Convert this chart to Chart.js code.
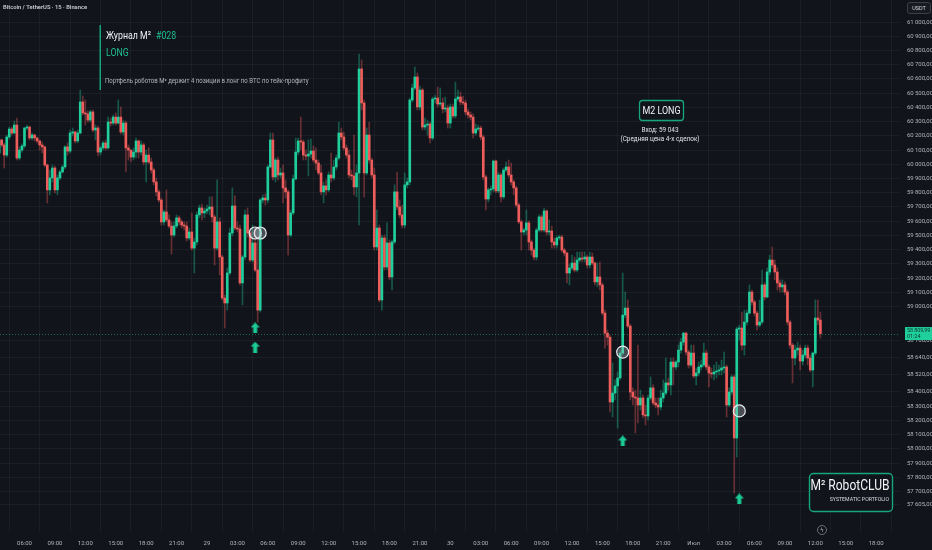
<!DOCTYPE html>
<html>
<head>
<meta charset="utf-8">
<title>BTCUSDT 15m — Журнал M² #028</title>
<script src="https://cdn.jsdelivr.net/npm/chart.js@4.4.1/dist/chart.umd.min.js"></script>
<style>
  html, body { margin: 0; padding: 0; background: #11141b; }
  #wrap { width: 932px; height: 550px; }
</style>
</head>
<body>
<div id="wrap"><canvas id="chart" width="932" height="550"></canvas></div>
<script>
// DATA (15m candles, slot 0 = 28 Jun 06:00, first candle = 03:30)
const firstSlot = -10;

const opens = [
  60079, 60171, 60136, 60065, 60192, 60248, 60220, 60276, 60044, 60100,
  60129, 60255, 60262, 60185, 60206, 60185, 60164, 60136, 60122, 59995,
  59820, 59904, 59974, 59820, 59904, 59946, 59981, 60122, 60093, 60220,
  60227, 60164, 60220, 60438, 60361, 60354, 60311, 60368, 60241, 60255,
  60086, 60115, 60150, 60115, 60297, 60290, 60332, 60290, 60332, 60227,
  60290, 60115, 60100, 60051, 60086, 60164, 60086, 60136, 60016, 60065,
  60016, 59960, 59876, 59806, 59749, 59595, 59665, 59609, 59566, 59503,
  59566, 59623, 59595, 59573, 59566, 59482, 59524, 59411, 59454, 59644,
  59693, 59658, 59672, 59686, 59700, 59630, 59411, 59595, 59348, 59060,
  59025, 59236, 59517, 59707, 59552, 59545, 59166, 59348, 59644, 59517,
  59327, 59447, 59257, 58975, 59749, 59763, 59749, 59981, 60171, 59911,
  60030, 59925, 59939, 59834, 59806, 59503, 59658, 59897, 60086, 60164,
  60157, 60065, 60058, 60072, 60093, 60030, 60009, 59939, 59806, 59848,
  59820, 59925, 59904, 59981, 60044, 60220, 60192, 60115, 60065, 59925,
  59918, 59841, 59939, 60670, 60431, 59939, 60206, 60030, 59925, 59419,
  59552, 59046, 59482, 59278, 59447, 59208, 59454, 59806, 59700, 59644,
  59573, 59855, 59876, 60452, 60536, 60614, 60403, 60522, 60262, 60276,
  60283, 60185, 60459, 60466, 60424, 60431, 60389, 60396, 60290, 60403,
  60340, 60459, 60473, 60438, 60431, 60368, 60347, 60332, 60220, 60248,
  60255, 60192, 59911, 59756, 59820, 59827, 60023, 59813, 59925, 59771,
  59960, 59981, 59925, 59876, 59834, 59714, 59595, 59524, 59538, 59588,
  59454, 59397, 59348, 59538, 59630, 59538, 59672, 59524, 59531, 59454,
  59433, 59482, 59489, 59397, 59376, 59236, 59271, 59306, 59257, 59327,
  59341, 59334, 59348, 59292, 59348, 59306, 59173, 59208, 59152, 58954,
  58813, 58785, 58329, 58392, 58442, 58498, 58673, 58940, 58989, 58863,
  58399, 58364, 58357, 58308, 58357, 58238, 58231, 58357, 58428, 58322,
  58308, 58294, 58357, 58392, 58463, 58449, 58610, 58575, 58610, 58694,
  58750, 58813, 58680, 58589, 58673, 58512, 58533, 58575, 58589, 58673,
  58575, 58533, 58526, 58540, 58547, 58554, 58568, 58575, 58308, 58399,
  58505, 58076, 58842, 58849, 58729, 58891, 58954, 59102, 59032, 58954,
  58870, 58891, 59152, 59067, 59243, 59327, 59292, 59243, 59166, 59138,
  59152, 59102, 58891, 58729, 58638, 58694, 58708, 58617, 58659, 58708,
  58638, 58554, 58673, 58919, 58905
];

const highs = [
  60185, 60178, 60150, 60206, 60262, 60262, 60304, 60325, 60122, 60143,
  60262, 60276, 60269, 60220, 60213, 60192, 60171, 60157, 60129, 60002,
  59960, 59995, 59988, 59925, 59960, 59995, 60129, 60150, 60241, 60255,
  60234, 60241, 60522, 60480, 60452, 60375, 60382, 60382, 60276, 60269,
  60129, 60164, 60171, 60332, 60325, 60347, 60361, 60452, 60403, 60311,
  60304, 60136, 60100, 60115, 60185, 60171, 60164, 60150, 60100, 60115,
  60044, 59974, 59904, 59820, 59763, 59679, 59820, 59644, 59595, 59595,
  59644, 59637, 59609, 59595, 59595, 59552, 59658, 59482, 59665, 59714,
  59721, 59693, 59714, 59771, 59771, 59644, 59890, 59623, 59362, 59081,
  59271, 59552, 59834, 59778, 59595, 59573, 59362, 59679, 59693, 59524,
  59573, 59552, 59468, 59760, 59785, 59792, 59995, 60220, 60220, 60044,
  60051, 59974, 59995, 59890, 59820, 59679, 59925, 60185, 60185, 60332,
  60171, 60100, 60171, 60178, 60129, 60115, 60030, 59995, 59876, 59890,
  59946, 60079, 60030, 60065, 60297, 60255, 60227, 60136, 60100, 59960,
  60206, 59995, 60775, 60733, 60452, 60255, 60297, 60044, 59974, 59679,
  59573, 59503, 59503, 59588, 59468, 59468, 59855, 59946, 59749, 59714,
  59939, 59904, 60466, 60564, 60684, 60642, 60550, 60536, 60325, 60311,
  60297, 60473, 60487, 60543, 60536, 60466, 60473, 60417, 60424, 60424,
  60578, 60522, 60508, 60480, 60452, 60389, 60368, 60354, 60283, 60276,
  60269, 60206, 59925, 59834, 59848, 60030, 60030, 59946, 59939, 59974,
  60016, 60030, 60009, 59890, 59848, 59728, 59609, 59552, 59679, 59602,
  59468, 59411, 59552, 59644, 59644, 59693, 59679, 59609, 59566, 59482,
  59496, 59503, 59503, 59411, 59383, 59299, 59362, 59348, 59383, 59383,
  59383, 59383, 59362, 59383, 59376, 59313, 59306, 59313, 59166, 58975,
  58835, 58799, 58603, 58484, 58540, 58694, 59236, 59102, 59046, 58877,
  58428, 58413, 58729, 58413, 58378, 58308, 58378, 58505, 58449, 58357,
  58357, 58413, 58484, 58638, 58498, 58638, 58638, 58624, 58729, 58778,
  58820, 58820, 58694, 58729, 58729, 58568, 58610, 58624, 58743, 58694,
  58589, 58568, 58589, 58610, 58589, 58624, 58680, 58589, 58428, 58519,
  58519, 58856, 58870, 58961, 58975, 58975, 59152, 59116, 59046, 58968,
  59046, 59257, 59166, 59271, 59362, 59419, 59327, 59271, 59187, 59187,
  59173, 59116, 58905, 58743, 58729, 58750, 58729, 58694, 58729, 58729,
  58659, 58680, 59046, 59046, 58961
];

const lows = [
  60065, 60122, 59974, 60051, 60178, 60206, 60213, 60030, 60030, 60086,
  60115, 60241, 60171, 60171, 60164, 60150, 60100, 60079, 59981, 59728,
  59785, 59876, 59799, 59785, 59890, 59939, 59967, 60065, 60079, 60199,
  60150, 60150, 60213, 60347, 60276, 60297, 60297, 60227, 60171, 60058,
  60065, 60100, 60100, 60107, 60269, 60276, 60276, 60283, 60213, 60206,
  59946, 60030, 60016, 60030, 60044, 60044, 60065, 59995, 59876, 60002,
  59939, 59855, 59778, 59735, 59573, 59573, 59595, 59552, 59369, 59489,
  59552, 59573, 59552, 59538, 59461, 59468, 59397, 59236, 59433, 59623,
  59609, 59623, 59651, 59644, 59595, 59292, 59397, 59222, 59046, 58849,
  58975, 59222, 59496, 59538, 59524, 59152, 59011, 59327, 59489, 59313,
  59313, 59243, 58891, 58961, 59728, 59714, 59728, 59974, 59890, 59876,
  59890, 59904, 59728, 59763, 59362, 59489, 59644, 59890, 60065, 60100,
  60030, 60030, 59918, 60044, 60016, 59960, 59925, 59785, 59728, 59785,
  59806, 59876, 59890, 59960, 60030, 60171, 60100, 60044, 59904, 59890,
  59785, 59771, 59573, 60382, 59771, 59925, 60009, 59904, 59397, 59397,
  59032, 58975, 59257, 59257, 59187, 59116, 59440, 59679, 59623, 59552,
  59552, 59834, 59855, 60438, 60522, 60382, 60382, 60241, 60241, 60206,
  60150, 60171, 60431, 60403, 60410, 60361, 60368, 60255, 60255, 60325,
  60325, 60445, 60417, 60417, 60347, 60325, 60311, 60185, 60206, 60234,
  60171, 59890, 59679, 59735, 59785, 59806, 59799, 59799, 59735, 59756,
  59946, 59911, 59855, 59785, 59700, 59581, 59397, 59503, 59503, 59397,
  59362, 59327, 59327, 59524, 59524, 59524, 59503, 59503, 59411, 59411,
  59411, 59468, 59383, 59355, 59166, 59152, 59257, 59243, 59243, 59313,
  59313, 59313, 59271, 59271, 59292, 59152, 59138, 59116, 58940, 58708,
  58729, 58259, 58224, 58343, 58146, 58484, 58659, 58919, 58849, 58343,
  58308, 58111, 58182, 58273, 58217, 58167, 58203, 58343, 58308, 58287,
  58238, 58273, 58329, 58378, 58413, 58378, 58449, 58554, 58575, 58673,
  58729, 58659, 58568, 58575, 58498, 58449, 58512, 58554, 58575, 58554,
  58435, 58498, 58484, 58498, 58519, 58519, 58533, 58224, 58294, 58378,
  57689, 57942, 58764, 58694, 58659, 58870, 58947, 59011, 58933, 58835,
  58856, 58877, 59046, 59060, 59222, 59271, 59187, 59116, 59102, 59102,
  59081, 58870, 58708, 58463, 58589, 58659, 58554, 58589, 58638, 58589,
  58540, 58435, 58659, 58870, 58778
];

const closes = [
  60171, 60136, 60065, 60192, 60248, 60220, 60276, 60044, 60100, 60129,
  60255, 60262, 60185, 60206, 60185, 60164, 60136, 60122, 59995, 59820,
  59904, 59974, 59820, 59904, 59946, 59981, 60122, 60093, 60220, 60227,
  60164, 60220, 60438, 60361, 60354, 60311, 60368, 60241, 60255, 60086,
  60115, 60150, 60115, 60297, 60290, 60332, 60290, 60332, 60227, 60290,
  60115, 60100, 60051, 60086, 60164, 60086, 60136, 60016, 60065, 60016,
  59960, 59876, 59806, 59749, 59595, 59665, 59609, 59566, 59503, 59566,
  59623, 59595, 59573, 59566, 59482, 59524, 59411, 59454, 59644, 59693,
  59658, 59672, 59686, 59700, 59630, 59411, 59595, 59348, 59060, 59025,
  59236, 59517, 59707, 59552, 59545, 59166, 59348, 59644, 59517, 59327,
  59447, 59257, 58975, 59749, 59763, 59749, 59981, 60171, 59911, 60030,
  59925, 59939, 59834, 59806, 59503, 59658, 59897, 60086, 60164, 60157,
  60065, 60058, 60072, 60093, 60030, 60009, 59939, 59806, 59848, 59820,
  59925, 59904, 59981, 60044, 60220, 60192, 60115, 60065, 59925, 59918,
  59841, 59939, 60670, 60431, 59939, 60206, 60030, 59925, 59419, 59552,
  59046, 59482, 59278, 59447, 59208, 59454, 59806, 59700, 59644, 59573,
  59855, 59876, 60452, 60536, 60614, 60403, 60522, 60262, 60276, 60283,
  60185, 60459, 60466, 60424, 60431, 60389, 60396, 60290, 60403, 60340,
  60459, 60473, 60438, 60431, 60368, 60347, 60332, 60220, 60248, 60255,
  60192, 59911, 59756, 59820, 59827, 60023, 59813, 59925, 59771, 59960,
  59981, 59925, 59876, 59834, 59714, 59595, 59524, 59538, 59588, 59454,
  59397, 59348, 59538, 59630, 59538, 59672, 59524, 59531, 59454, 59433,
  59482, 59489, 59397, 59376, 59236, 59271, 59306, 59257, 59327, 59341,
  59334, 59348, 59292, 59348, 59306, 59173, 59208, 59152, 58954, 58813,
  58785, 58329, 58392, 58442, 58498, 58673, 58940, 58989, 58863, 58399,
  58364, 58357, 58308, 58357, 58238, 58231, 58357, 58428, 58322, 58308,
  58294, 58357, 58392, 58463, 58449, 58610, 58575, 58610, 58694, 58750,
  58813, 58680, 58589, 58673, 58512, 58533, 58575, 58589, 58673, 58575,
  58533, 58526, 58540, 58547, 58554, 58568, 58575, 58308, 58399, 58505,
  58076, 58842, 58849, 58729, 58891, 58954, 59102, 59032, 58954, 58870,
  58891, 59152, 59067, 59243, 59327, 59292, 59243, 59166, 59138, 59152,
  59102, 58891, 58729, 58638, 58694, 58708, 58617, 58659, 58708, 58638,
  58554, 58673, 58919, 58905, 58809.99
];

// x-axis labels, one every 3 hours (12 slots)
const timeTicks = ["06:00","09:00","12:00","15:00","18:00","21:00","29","03:00","06:00","09:00",
  "12:00","15:00","18:00","21:00","30","03:00","06:00","09:00","12:00","15:00",
  "18:00","21:00","Июл","03:00","06:00","09:00","12:00","15:00","18:00"];
const slotsPerTick = 12;

// price axis labels
const priceTicks = [61000, 60900, 60800, 60700, 60600, 60500, 60400, 60300, 60200, 60100,
  60000, 59900, 59800, 59700, 59600, 59500, 59400, 59300, 59200, 59100, 59000,
  58760, 58640, 58520, 58400, 58300, 58200, 58100, 58000, 57900, 57800, 57700, 57605];

// entries (circles) and buy signals (arrows)
const entrySlots = [91, 93, 236, 282];
const entryPrices = [59517, 59517, 58680, 58266];
const arrowSlots = [91, 91, 236, 282];
const arrowPrices = [58850, 58715, 58055, 57647];

const countdown = "01:24";

// STYLE
const UP = "#1fcf9c";
const DOWN = "#ee5d5b";
const UP_WICK = "rgba(31,207,156,0.36)";
const DOWN_WICK = "rgba(238,93,91,0.38)";
const TEXT = "#b2b5be";
const ACCENT = "#1fbf8f";
const GRID = "rgba(255,255,255,0.045)";
const FONT = "Roboto";

function fmtPrice(v) {
  const parts = v.toFixed(2).split(".");
  return parts[0].replace(/\B(?=(\d{3})+(?!\d))/g, "\u2009") + "," + parts[1];
}

const isUp = i => closes[i] >= opens[i];

const wickData = closes.map((c, i) => ({ x: firstSlot + i, y: [lows[i], highs[i]] }));
const bodyData = closes.map((c, i) => ({ x: firstSlot + i, y: [opens[i], c] }));
const entryData = entrySlots.map((s, i) => ({ x: s, y: entryPrices[i] }));
const arrowData = arrowSlots.map((s, i) => ({ x: s, y: arrowPrices[i] }));

// green up-arrow marker
const arrowImg = document.createElement("canvas");
arrowImg.width = 9; arrowImg.height = 11;
(function () {
  const c = arrowImg.getContext("2d");
  c.fillStyle = "#1ccb93";
  c.beginPath();
  c.moveTo(4.5, 0); c.lineTo(9, 5); c.lineTo(6.5, 5); c.lineTo(6.5, 11);
  c.lineTo(2.5, 11); c.lineTo(2.5, 5); c.lineTo(0, 5); c.closePath();
  c.fill();
})();

function roundBox(ctx, x, y, w, h, r) {
  ctx.beginPath();
  ctx.roundRect(x, y, w, h, r);
}

// text squeezed horizontally (the original uses a narrow face)
function narrowText(ctx, text, x, y, sx) {
  ctx.save();
  ctx.translate(x, y);
  ctx.scale(sx, 1);
  ctx.fillText(text, 0, 0);
  ctx.restore();
}

// current price line (under the candles)
const priceLine = {
  id: "priceLine",
  beforeDatasetsDraw(chart) {
    const { ctx, chartArea, scales } = chart;
    const y = scales.y.getPixelForValue(closes[closes.length - 1]);
    ctx.save();
    ctx.strokeStyle = "rgba(31,207,156,0.45)";
    ctx.lineWidth = 1;
    ctx.setLineDash([1, 2]);
    ctx.beginPath();
    ctx.moveTo(chartArea.left, Math.round(y) + 0.5);
    ctx.lineTo(chartArea.right, Math.round(y) + 0.5);
    ctx.stroke();
    ctx.restore();
  }
};

// texts, boxes and the axis price label
const overlay = {
  id: "overlay",
  afterDraw(chart) {
    const { ctx, scales } = chart;
    ctx.save();
    ctx.textBaseline = "middle";

    // symbol caption
    ctx.fillStyle = "#c9ccd3";
    ctx.font = "600 5.8px " + FONT;
    ctx.fillText("Bitcoin / TetherUS · 15 · Binance", 3, 7.5);

    // journal header
    ctx.fillStyle = "#17a57b";
    ctx.fillRect(99.5, 25, 1.5, 65);
    ctx.font = "11px " + FONT;
    ctx.fillStyle = "#eef0f3";
    narrowText(ctx, "Журнал M²", 106, 36, 0.8);
    const titleW = ctx.measureText("Журнал M²").width * 0.8;
    ctx.fillStyle = ACCENT;
    narrowText(ctx, "#028", 106 + titleW + 5, 36, 0.8);
    narrowText(ctx, "LONG", 106, 53, 0.8);
    ctx.font = "6.3px " + FONT;
    ctx.fillStyle = TEXT;
    narrowText(ctx, "Портфель роботов M² держит 4 позиции в лонг по BTC по тейк-профиту", 105, 81, 0.96);

    // M2 LONG box
    ctx.strokeStyle = "#17a57b";
    ctx.lineWidth = 1.3;
    roundBox(ctx, 639.5, 100.5, 44, 20, 3);
    ctx.fillStyle = "#11141b";
    ctx.fill();
    ctx.stroke();
    ctx.textAlign = "center";
    ctx.fillStyle = "#f2f3f5";
    ctx.font = "10.5px " + FONT;
    narrowText(ctx, "M2 LONG", 661.5, 111, 0.85);
    ctx.font = "6.4px " + FONT;
    ctx.fillStyle = "#e3e5e8";
    ctx.fillText("Вход: 59 043", 660, 130.5);
    ctx.fillText("(Средняя цена 4-х сделок)", 660, 139);

    // logo box
    ctx.lineWidth = 1.4;
    roundBox(ctx, 809.5, 473.5, 83, 38, 4);
    ctx.fillStyle = "#11141b";
    ctx.fill();
    ctx.stroke();
    ctx.textAlign = "right";
    ctx.fillStyle = "#f4f5f7";
    ctx.font = "14px " + FONT;
    narrowText(ctx, "M² RobotCLUB", 889.5, 486, 0.86);
    ctx.font = "5.2px " + FONT;
    ctx.fillStyle = "#d9dbdf";
    ctx.fillText("SYSTEMATIC PORTFOLIO", 889, 500);

    // USDT box
    ctx.textAlign = "center";
    ctx.strokeStyle = "#3b3f49";
    ctx.lineWidth = 1;
    roundBox(ctx, 907.5, 2.5, 23, 11, 2);
    ctx.fillStyle = "#181b23";
    ctx.fill();
    ctx.stroke();
    ctx.fillStyle = "#d4d6db";
    ctx.font = "5.5px " + FONT;
    ctx.fillText("USDT", 919, 8.2);

    // lightning badge
    ctx.strokeStyle = "#80848e";
    ctx.lineWidth = 0.8;
    ctx.beginPath();
    ctx.arc(822, 530, 4.5, 0, Math.PI * 2);
    ctx.stroke();
    ctx.fillStyle = "#b8bbc2";
    ctx.font = "6px DejaVu Sans";
    ctx.fillText("ϟ", 822, 530.5);

    // current price label on the axis
    const last = closes[closes.length - 1];
    const y = scales.y.getPixelForValue(last);
    ctx.fillStyle = "#1fd09c";
    ctx.fillRect(905, y - 6.5, 27, 13);
    ctx.fillStyle = "#0b3328";
    ctx.textAlign = "left";
    ctx.font = "5.4px " + FONT;
    ctx.fillText(fmtPrice(last), 907, y - 2.8);
    ctx.fillText(countdown, 907, y + 3.2);

    ctx.restore();
  }
};

new Chart(document.getElementById("chart"), {
  type: "bar",
  data: {
    datasets: [
      {
        label: "wicks",
        data: wickData,
        backgroundColor: c => isUp(c.dataIndex) ? UP_WICK : DOWN_WICK,
        barThickness: 1,
        grouped: false,
        order: 3
      },
      {
        label: "bodies",
        data: bodyData,
        backgroundColor: c => isUp(c.dataIndex) ? UP : DOWN,
        barThickness: 2,
        minBarLength: 1,
        grouped: false,
        order: 2
      },
      {
        type: "scatter",
        label: "entries",
        data: entryData,
        pointStyle: "circle",
        pointRadius: 6,
        backgroundColor: "rgba(190,195,205,0.32)",
        borderColor: "#e9ebef",
        borderWidth: 1.2,
        order: 1
      },
      {
        type: "scatter",
        label: "signals",
        data: arrowData,
        pointStyle: arrowImg,
        order: 0
      }
    ]
  },
  options: {
    responsive: false,
    animation: false,
    events: [],
    layout: { padding: 0, autoPadding: false },
    plugins: { legend: { display: false }, tooltip: { enabled: false } },
    scales: {
      x: {
        type: "linear",
        min: -9.66,
        max: 345.4,
        offset: false,
        grid: { color: GRID, drawTicks: false },
        border: { display: false },
        afterBuildTicks: s => { s.ticks = timeTicks.map((t, k) => ({ value: k * slotsPerTick })); },
        afterFit: s => { s.height = 18; s.paddingLeft = 0; s.paddingRight = 0; },
        ticks: {
          autoSkip: false,
          maxRotation: 0,
          padding: 8,
          color: TEXT,
          font: { family: FONT, size: 6 },
          callback: v => timeTicks[Math.round(v / slotsPerTick)] ?? ""
        }
      },
      y: {
        type: "linear",
        position: "right",
        min: 57415,
        max: 61155,
        grid: { color: GRID, drawTicks: false },
        border: { display: false },
        afterBuildTicks: s => { s.ticks = priceTicks.map(v => ({ value: v })); },
        afterFit: s => { s.width = 32; s.paddingTop = 0; s.paddingBottom = 0; },
        ticks: {
          padding: 7,
          color: TEXT,
          font: { family: FONT, size: 6 },
          callback: v => fmtPrice(v)
        }
      }
    }
  },
  plugins: [priceLine, overlay]
});
</script>
</body>
</html>
